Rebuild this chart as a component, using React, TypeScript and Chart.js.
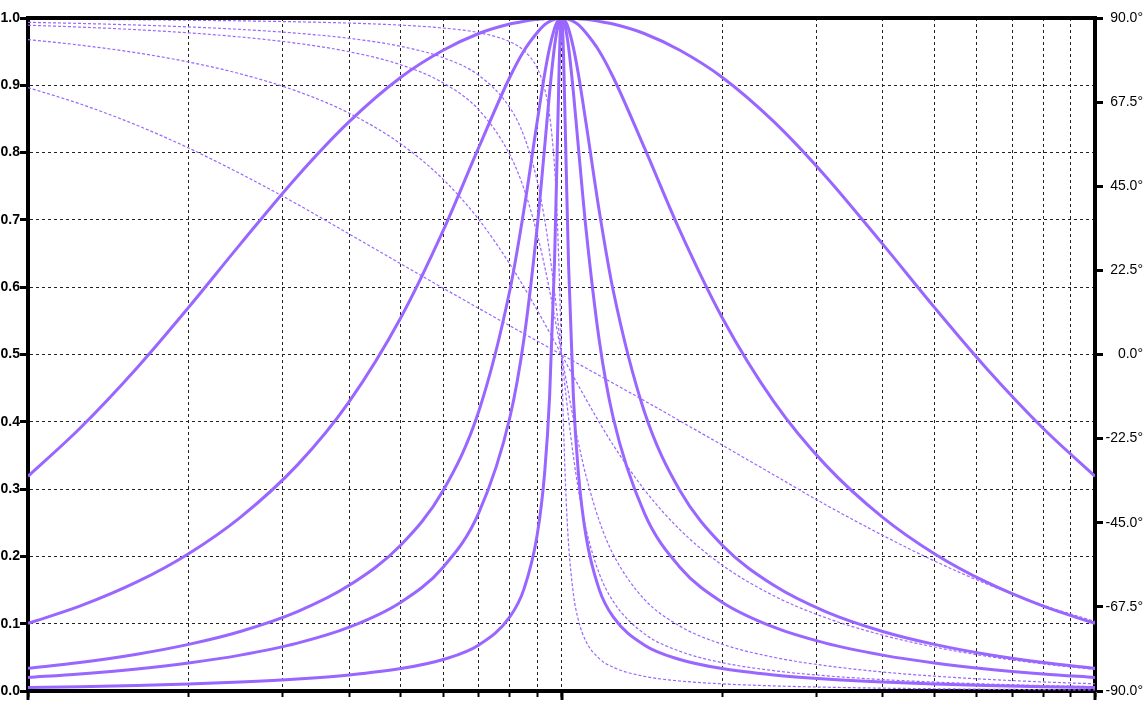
import React, { useEffect, useRef } from "react";
import { Chart, registerables } from "chart.js";

Chart.register(...registerables);

// frequency ratio f / f0 (log axis, 0.1 .. 10)
const freq = [
  0.1, 0.125, 0.16, 0.2, 0.25, 0.32, 0.4, 0.5, 0.6, 0.7, 0.8, 0.85, 0.9, 0.93, 0.95, 0.97, 0.98, 0.99, 0.995, 1,
  1.005, 1.0101, 1.0204, 1.0309, 1.0526, 1.0753, 1.1111, 1.1765, 1.25, 1.4286, 1.6667, 2, 2.5, 3.125, 4, 5, 6.25, 8, 10,
];

const xTicks = [0.1, 0.2, 0.3, 0.4, 0.5, 0.6, 0.7, 0.8, 0.9, 1, 2, 3, 4, 5, 6, 7, 8, 9, 10];
const phaseTicks = [-90, -67.5, -45, -22.5, 0, 22.5, 45, 67.5, 90];

// magnitude (left axis, 0..1)
const magQ03 = [
  0.319, 0.39, 0.48, 0.57, 0.664, 0.765, 0.846, 0.912, 0.952, 0.977, 0.991, 0.995, 0.998, 0.999, 1.0, 1.0, 1.0, 1.0, 1.0, 1.0,
  1.0, 1.0, 1.0, 1.0, 1.0, 0.999, 0.998, 0.995, 0.991, 0.977, 0.952, 0.912, 0.846, 0.765, 0.664, 0.57, 0.48, 0.39, 0.319,
];
const magQ1 = [
  0.1005, 0.126, 0.162, 0.204, 0.258, 0.336, 0.43, 0.555, 0.684, 0.808, 0.912, 0.951, 0.978, 0.99, 0.995, 0.998, 0.999, 1.0, 1.0, 1.0,
  1.0, 1.0, 0.999, 0.998, 0.995, 0.99, 0.978, 0.951, 0.912, 0.808, 0.684, 0.555, 0.43, 0.336, 0.258, 0.204, 0.162, 0.126, 0.1005,
];
const magQ3 = [
  0.0337, 0.0423, 0.0547, 0.0693, 0.0885, 0.118, 0.157, 0.217, 0.298, 0.416, 0.595, 0.714, 0.845, 0.917, 0.956, 0.984, 0.993, 0.998, 1.0, 1.0,
  1.0, 0.998, 0.993, 0.984, 0.956, 0.917, 0.845, 0.714, 0.595, 0.416, 0.298, 0.217, 0.157, 0.118, 0.0885, 0.0693, 0.0547, 0.0423, 0.0337,
];
const magQ5 = [
  0.0202, 0.0254, 0.0328, 0.0416, 0.0533, 0.0711, 0.0948, 0.132, 0.184, 0.265, 0.406, 0.522, 0.688, 0.809, 0.89, 0.957, 0.98, 0.995, 0.999, 1.0,
  0.999, 0.995, 0.98, 0.957, 0.89, 0.809, 0.688, 0.522, 0.406, 0.265, 0.184, 0.132, 0.0948, 0.0711, 0.0533, 0.0416, 0.0328, 0.0254, 0.0202,
];
const magQ20 = [
  0.0051, 0.0064, 0.0082, 0.0104, 0.0133, 0.0178, 0.0238, 0.0333, 0.0468, 0.0685, 0.11, 0.151, 0.231, 0.325, 0.438, 0.634, 0.778, 0.928, 0.981, 1.0,
  0.981, 0.928, 0.778, 0.634, 0.438, 0.325, 0.231, 0.151, 0.11, 0.0685, 0.0468, 0.0333, 0.0238, 0.0178, 0.0133, 0.0104, 0.0082, 0.0064, 0.0051,
];

// phase in degrees (right axis, -90..90)
const phQ03 = [
  71.39, 67.06, 61.31, 55.22, 48.37, 40.16, 32.21, 24.23, 17.75, 12.33, 7.69, 5.59, 3.62, 2.5, 1.76, 1.05, 0.69, 0.35, 0.17, 0,
  -0.17, -0.35, -0.69, -1.05, -1.76, -2.5, -3.62, -5.59, -7.69, -12.33, -17.75, -24.23, -32.21, -40.16, -48.37, -55.22, -61.31, -67.06, -71.39,
];
const phQ1 = [
  84.23, 82.76, 80.68, 78.23, 75.07, 70.38, 64.54, 56.31, 46.85, 36.08, 24.23, 18.08, 11.92, 8.27, 5.86, 3.49, 2.31, 1.15, 0.57, 0,
  -0.57, -1.15, -2.31, -3.49, -5.86, -8.27, -11.92, -18.08, -24.23, -36.08, -46.85, -56.31, -64.54, -70.38, -75.07, -78.23, -80.68, -82.76, -84.23,
];
const phQ3 = [
  88.07, 87.58, 86.87, 86.03, 84.92, 83.22, 80.98, 77.47, 72.65, 65.42, 53.47, 44.4, 32.35, 23.55, 17.11, 10.36, 6.91, 3.45, 1.72, 0,
  -1.72, -3.45, -6.91, -10.36, -17.11, -23.55, -32.35, -44.4, -53.47, -65.42, -72.65, -77.47, -80.98, -83.22, -84.92, -86.03, -86.87, -87.58, -88.07,
];
const phQ5 = [
  88.84, 88.55, 88.12, 87.61, 86.95, 85.92, 84.56, 82.41, 79.38, 74.65, 66.04, 58.51, 46.55, 35.99, 27.17, 16.94, 11.42, 5.74, 2.87, 0,
  -2.87, -5.74, -11.42, -16.94, -27.17, -35.99, -46.55, -58.51, -66.04, -74.65, -79.38, -82.41, -84.56, -85.92, -86.95, -87.61, -88.12, -88.55, -88.84,
];
const phQ20 = [
  89.71, 89.64, 89.53, 89.4, 89.24, 88.98, 88.64, 88.09, 87.32, 86.07, 83.66, 81.29, 76.68, 70.98, 64.03, 50.63, 38.94, 21.9, 11.34, 0,
  -11.34, -21.9, -38.94, -50.63, -64.03, -70.98, -76.68, -81.29, -83.66, -86.07, -87.32, -88.09, -88.64, -88.98, -89.24, -89.4, -89.53, -89.64, -89.71,
];

const magSeries = [magQ03, magQ1, magQ3, magQ5, magQ20];
const phaseSeries = [phQ03, phQ1, phQ3, phQ5, phQ20];
const decadeTicks = [0.1, 1, 10];

export default function App() {
  const ref = useRef<HTMLCanvasElement | null>(null);

  useEffect(() => {
    if (!ref.current) return;
    const purple = "rgb(153,102,255)";
    const mk = (vals: number[]) => freq.map((f, i) => ({ x: f, y: vals[i] }));

    const framePlugin = {
      id: "frame",
      afterDraw(chart: any) {
        const { ctx, chartArea } = chart;
        const xs = chart.scales.x;
        ctx.save();
        ctx.strokeStyle = "#000";
        ctx.lineWidth = 4;
        ctx.beginPath();
        ctx.moveTo(chartArea.left - 2, chartArea.top);
        ctx.lineTo(chartArea.right + 2, chartArea.top);
        ctx.stroke();
        ctx.lineWidth = 3;
        for (const v of decadeTicks) {
          const px = Math.round(xs.getPixelForValue(v));
          ctx.beginPath();
          ctx.moveTo(px, chartArea.bottom);
          ctx.lineTo(px, chartArea.bottom + 9);
          ctx.stroke();
        }
        ctx.restore();
      },
    };

    const font = { family: '"Liberation Sans", Arial, sans-serif', size: 14 };

    const chart = new Chart(ref.current, {
      type: "line",
      data: {
        datasets: [
          ...magSeries.map((m, i) => ({
            label: "mag" + i,
            data: mk(m),
            yAxisID: "y",
            borderColor: purple,
            backgroundColor: purple,
            borderWidth: 3,
            pointRadius: 0,
            fill: false,
            cubicInterpolationMode: "monotone" as const,
          })),
          ...phaseSeries.map((p, i) => ({
            label: "phase" + i,
            data: mk(p),
            yAxisID: "y1",
            borderColor: purple,
            backgroundColor: purple,
            borderWidth: 1.2,
            borderDash: [3, 2],
            pointRadius: 0,
            fill: false,
            cubicInterpolationMode: "monotone" as const,
          })),
        ],
      },
      options: {
        animation: false,
        responsive: false,
        layout: { padding: { top: 18, left: 0, right: 5, bottom: 0 } },
        plugins: { legend: { display: false }, tooltip: { enabled: false } },
        scales: {
          x: {
            type: "logarithmic",
            min: 0.1,
            max: 10,
            afterBuildTicks: (s: any) => {
              s.ticks = xTicks.map((v) => ({ value: v }));
            },
            ticks: { display: false },
            grid: {
              color: "#222",
              lineWidth: 1,
              tickColor: "#000",
              tickLength: 6,
              tickWidth: 2,
              drawTicks: true,
            },
            border: { display: true, color: "#000", width: 4, dash: [3, 3] },
            afterFit: (s: any) => {
              s.height = 26;
            },
          },
          y: {
            position: "left",
            min: 0,
            max: 1,
            ticks: {
              stepSize: 0.1,
              callback: (v: any) => Number(v).toFixed(1),
              color: "#000",
              font: { ...font, weight: "bold" },
              padding: 0,
            },
            grid: {
              color: "#222",
              lineWidth: 1,
              tickColor: "#000",
              tickLength: 8,
              tickWidth: 3,
            },
            border: { display: true, color: "#000", width: 4, dash: [3, 3] },
            afterFit: (s: any) => {
              s.width = 28;
            },
          },
          y1: {
            position: "right",
            min: -90,
            max: 90,
            afterBuildTicks: (s: any) => {
              s.ticks = phaseTicks.map((v) => ({ value: v }));
            },
            ticks: {
              callback: (v: any) => Number(v).toFixed(1) + "°",
              color: "#000",
              font: { ...font, weight: "normal" },
              padding: 5,
              crossAlign: "far",
            },
            grid: {
              drawOnChartArea: false,
              tickColor: "#000",
              tickLength: 8,
              tickWidth: 3,
            },
            border: { display: true, color: "#000", width: 4 },
            afterFit: (s: any) => {
              s.width = 48;
            },
          },
        },
      } as any,
      plugins: [framePlugin],
    });
    return () => chart.destroy();
  }, []);

  return (
    <div style={{ position: "fixed", left: 0, top: 0, width: 1148, height: 717, background: "#fff" }}>
      <canvas ref={ref} width={1148} height={717} style={{ display: "block" }} />
    </div>
  );
}
